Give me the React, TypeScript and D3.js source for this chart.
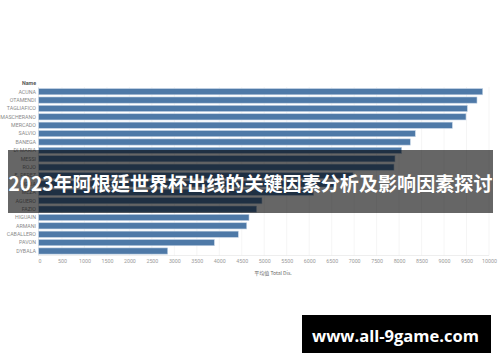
import React, { useEffect, useRef } from "react";
import * as d3 from "d3";

// players sorted by average total distance
const names = [
  "ACUNA", "OTAMENDI", "TAGLIAFICO", "MASCHERANO", "MERCADO", "SALVIO", "BANEGA",
  "DI MARIA", "MESSI", "ROJO", "E. PEREZ", "BIGLIA", "MEZA", "AGUERO", "FAZIO",
  "HIGUAIN", "ARMANI", "CABALLERO", "PAVON", "DYBALA",
];
const distances = [
  9860, 9733, 9517, 9488, 9184, 8360, 8249,
  8058, 7909, 7887, 6974, 6600, 6100, 4950, 4832,
  4661, 4610, 4423, 3889, 2852,
];
const tickValues = d3.range(0, 10001, 500);
const titleText = "2023年阿根廷世界杯出线的关键因素分析及影响因素探讨";
const axisTitle = "平均值 Total Dis.";
const watermark = "www.all-9game.com";

export default function App() {
  const ref = useRef<SVGSVGElement>(null);

  useEffect(() => {
    const svg = d3.select(ref.current);
    svg.selectAll("*").remove();

    const data = names.map((n, i) => ({ name: n, value: distances[i] }));

    const x = d3.scaleLinear().domain([0, 10000]).range([39.5, 489]);
    const y = d3.scaleBand<string>().domain(names).range([87.5, 255.2]).paddingInner(0.26).paddingOuter(0.13);

    const g = svg.append("g");

    // faint vertical grid
    g.selectAll(".grid")
      .data(tickValues.slice(1))
      .join("line")
      .attr("x1", (d) => x(d)).attr("x2", (d) => x(d))
      .attr("y1", 87).attr("y2", 255.5)
      .attr("stroke", "#eeeeee").attr("stroke-width", 0.6);

    // axis lines
    g.append("line").attr("x1", 38.5).attr("x2", 38.5).attr("y1", 87).attr("y2", 255.5)
      .attr("stroke", "#d8d8d8").attr("stroke-width", 0.6);
    g.append("line").attr("x1", 38.5).attr("x2", 489).attr("y1", 255.5).attr("y2", 255.5)
      .attr("stroke", "#e2e2e2").attr("stroke-width", 0.6);

    // bars
    g.selectAll(".bar")
      .data(data)
      .join("rect")
      .attr("x", x(0) - 0.8)
      .attr("y", (d) => y(d.name)!)
      .attr("width", (d) => x(d.value) - x(0) + 0.8)
      .attr("height", y.bandwidth())
      .attr("fill", "#4e79a7")
      .attr("stroke", "#c3d3e4")
      .attr("stroke-width", 0.6);

    // row labels
    g.selectAll(".lbl")
      .data(data)
      .join("text")
      .attr("x", 36)
      .attr("y", (d) => y(d.name)! + y.bandwidth() / 2)
      .attr("dy", "0.35em")
      .attr("text-anchor", "end")
      .attr("font-family", "Roboto, sans-serif")
      .attr("font-size", 5.3)
      .attr("fill", "#8a8a8a")
      .text((d) => d.name);

    g.append("text").attr("x", 36).attr("y", 84.5).attr("text-anchor", "end")
      .attr("font-family", "Roboto, sans-serif").attr("font-size", 5.3).attr("font-weight", "bold")
      .attr("fill", "#555").text("Name");

    // tick labels
    g.selectAll(".tick")
      .data(tickValues)
      .join("text")
      .attr("x", (d) => x(d) + 0.5)
      .attr("y", 262.5)
      .attr("text-anchor", "middle")
      .attr("font-family", "Roboto, sans-serif")
      .attr("font-size", 5.3)
      .attr("fill", "#9a9a9a")
      .text((d) => String(d));

    g.append("text").attr("x", 273).attr("y", 274.5).attr("text-anchor", "middle")
      .attr("font-family", "'Noto Sans CJK SC', Roboto, sans-serif").attr("font-size", 5)
      .attr("fill", "#666").text(axisTitle);

    // dark title banner over the chart
    svg.append("rect").attr("x", 8).attr("y", 150).attr("width", 485).attr("height", 63)
      .attr("fill", "#000").attr("opacity", 0.6);
    svg.append("text").attr("x", 250.5).attr("y", 190.5).attr("text-anchor", "middle")
      .attr("font-family", "'Noto Sans CJK SC', sans-serif").attr("font-weight", "bold")
      .attr("font-size", 19.6).attr("fill", "#fff")
      .attr("textLength", 484).attr("lengthAdjust", "spacingAndGlyphs")
      .text(titleText);

    // watermark box
    svg.append("rect").attr("x", 302).attr("y", 315).attr("width", 189).attr("height", 38).attr("fill", "#000");
    svg.append("text").attr("x", 395.5).attr("y", 342).attr("text-anchor", "middle")
      .attr("font-family", "'Open Sans', sans-serif").attr("font-weight", "bold")
      .attr("font-size", 16).attr("fill", "#fff")
      .attr("textLength", 167).attr("lengthAdjust", "spacingAndGlyphs")
      .text(watermark);
  }, []);

  return (
    <svg ref={ref} width={500} height={362}
      style={{ position: "absolute", left: 0, top: 0, background: "#fff" }} />
  );
}
